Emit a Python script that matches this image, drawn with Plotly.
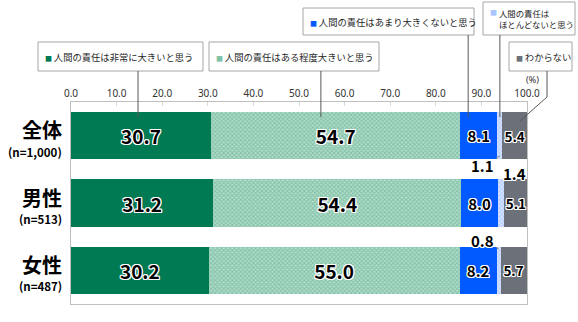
import plotly.graph_objects as go

# Survey results (%), one row per respondent group
groups = ["全体", "男性", "女性"]
sample_sizes = ["(n=1,000)", "(n=513)", "(n=487)"]

series_names = [
    "人間の責任は非常に大きいと思う",
    "人間の責任はある程度大きいと思う",
    "人間の責任はあまり大きくないと思う",
    "人間の責任は<br>ほとんどないと思う",
    "わからない",
]
very_large = [30.7, 31.2, 30.2]
fairly_large = [54.7, 54.4, 55.0]
not_very_large = [8.1, 8.0, 8.2]
hardly_any = [1.1, 1.4, 0.8]
dont_know = [5.4, 5.1, 5.7]

tick_values = [0, 10, 20, 30, 40, 50, 60, 70, 80, 90, 100]

series_values = [very_large, fairly_large, not_very_large, hardly_any, dont_know]
colors = ["#007A53", "#7FC3A9", "#005AFF", "#A9C4FF", "#6B7079"]
patterns = [
    None,
    dict(shape="x", fgcolor="#4FA985", bgcolor="#B4DCCB", size=3, solidity=0.55),
    None,
    dict(shape="x", fgcolor="#8DB2FF", bgcolor="#DCE7FF", size=3, solidity=0.5),
    None,
]
label_sizes = [19, 19, 15, 15, 13.5]

W, H = 578, 322
L, R, T, B = 71, 51, 102, 18
PW, PH = W - L - R, H - T - B

def px(x):
    return (x - L) / PW

def py(y):
    return (H - B - y) / PH

FONT = "Noto Sans CJK JP"
HALO = ("-1px -1px 0 #fff, 1px -1px 0 #fff, -1px 1px 0 #fff, 1px 1px 0 #fff, "
        "0 -1px 0 #fff, 0 1px 0 #fff, -1px 0 0 #fff, 1px 0 0 #fff")

fig = go.Figure()
for i, (name, vals) in enumerate(zip(series_names, series_values)):
    marker = dict(color=colors[i], line=dict(width=0))
    if patterns[i]:
        marker["pattern"] = patterns[i]
    show_text = i != 3
    fig.add_trace(go.Bar(
        name=name,
        y=groups,
        x=vals,
        orientation="h",
        marker=marker,
        text=[f"{v:.1f}" for v in vals] if show_text else None,
        textposition="inside" if show_text else "none",
        insidetextanchor="middle",
        textangle=0,
        constraintext="none",
        textfont=dict(family=FONT, size=label_sizes[i], color="#000",
                      weight="bold", shadow=HALO),
        hoverinfo="skip",
    ))

shapes = []
annotations = []

# Legend boxes with leader lines into the top bar
legend_boxes = [
    # (x0, y0, x1, y1) pixels, series index, leader line x (data), font size
    ((38, 42, 203, 71), 0, 14.7, 9.3),
    ((209, 42, 379, 71), 1, 54.8, 9.3),
    ((303, 8, 474, 35), 2, 87.1, 9.3),
    ((483, 2, 575, 35), 3, None, 8.4),
    ((509, 42, 572, 71), 4, None, 9.3),
]
bar_top_inner = py(117)
for (x0, y0, x1, y1), idx, lx, fs in legend_boxes:
    shapes.append(dict(type="rect", xref="paper", yref="paper",
                       x0=px(x0), x1=px(x1), y0=py(y1), y1=py(y0),
                       line=dict(color="#A6A6A6", width=1), fillcolor="white",
                       layer="above"))
    swatch = f"<span style='font-size:7px;color:{colors[idx]}'>■</span>"
    if idx == 3:
        # two-line entry: swatch beside the first line, text block aligned
        annotations.append(dict(xref="paper", yref="paper",
                                x=px(x0 + 5), y=py(y0 + 10),
                                xanchor="left", yanchor="middle",
                                text=swatch, showarrow=False,
                                font=dict(family=FONT, size=9, color="#262626")))
        annotations.append(dict(xref="paper", yref="paper",
                                x=px(x0 + 14), y=py((y0 + y1) / 2),
                                xanchor="left", yanchor="middle", align="left",
                                text=series_names[idx], showarrow=False,
                                font=dict(family=FONT, size=fs, color="#262626")))
    else:
        annotations.append(dict(xref="paper", yref="paper",
                                x=px(x0 + 5), y=py((y0 + y1) / 2),
                                xanchor="left", yanchor="middle", align="left",
                                text=f"{swatch}\u2009{series_names[idx]}",
                                showarrow=False,
                                font=dict(family=FONT, size=fs, color="#262626")))
    if idx == 3:
        lx = sum(series_values[k][0] for k in range(3)) + hardly_any[0] / 2
    if lx is not None:
        shapes.append(dict(type="line", xref="x", yref="paper",
                           x0=lx, x1=lx, y0=py(y1), y1=bar_top_inner,
                           line=dict(color="#595959", width=1)))

# "わからない" leader: down, then diagonally into the grey segment
shapes.append(dict(type="path", xref="paper", yref="paper",
                   path=f"M {px(547)} {py(71)} L {px(547)} {py(97)} L {px(520)} {py(121)}",
                   line=dict(color="#595959", width=1)))

annotations.append(dict(xref="paper", yref="paper", x=px(532), y=py(80),
                        xanchor="center", yanchor="middle",
                        text="(%)", showarrow=False,
                        font=dict(family="Noto Sans", size=9, color="#333")))

# Group labels on the left
for g, n in zip(groups, sample_sizes):
    annotations.append(dict(xref="paper", yref="y", x=px(64), y=g,
                            xanchor="right", yanchor="middle", yshift=6,
                            text=f"<b>{g}</b>", showarrow=False,
                            font=dict(family=FONT, size=20, color="#000")))
    annotations.append(dict(xref="paper", yref="y", x=px(64), y=g,
                            xanchor="right", yanchor="middle", yshift=-16,
                            text=f"<b>{n}</b>", showarrow=False,
                            font=dict(family=FONT, size=11.5, color="#000")))

# Small-segment values placed outside with short leader lines
small_offsets = [(-17, 10, 0.3), (13, -8, -0.32), (-16, -8, -0.32)]
for gi, g in enumerate(groups):
    start = very_large[gi] + fairly_large[gi] + not_very_large[gi]
    mid = start + hardly_any[gi] / 2
    ax, ay, dy = small_offsets[gi]
    annotations.append(dict(xref="x", yref="y", x=mid, y=gi + dy,
                            text=f"<b>{hardly_any[gi]:.1f}</b>",
                            showarrow=True, arrowhead=0, arrowwidth=1,
                            arrowcolor="#7F7F7F", ax=ax, ay=ay, standoff=0,
                            font=dict(family=FONT, size=15, color="#000",
                                      shadow=HALO)))

fig.update_layout(
    width=W, height=H,
    margin=dict(l=L, r=R, t=T, b=B),
    barmode="stack",
    bargap=0.3,
    showlegend=False,
    plot_bgcolor="white",
    paper_bgcolor="white",
    shapes=shapes,
    annotations=annotations,
    xaxis=dict(range=[0, 100], side="top", tickvals=tick_values,
               ticktext=[f"{v:.1f}" for v in tick_values],
               ticks="inside", ticklen=4, tickcolor="#D9D9D9",
               showgrid=False, zeroline=False,
               showline=True, mirror=True, linecolor="#BFBFBF", linewidth=1,
               tickfont=dict(family="Noto Sans", size=10, color="#333")),
    yaxis=dict(categoryorder="array", categoryarray=groups,
               autorange="reversed", showticklabels=False, ticks="",
               showgrid=False, zeroline=False,
               showline=True, mirror=True, linecolor="#BFBFBF", linewidth=1),
)

fig.write_html("out.html")
